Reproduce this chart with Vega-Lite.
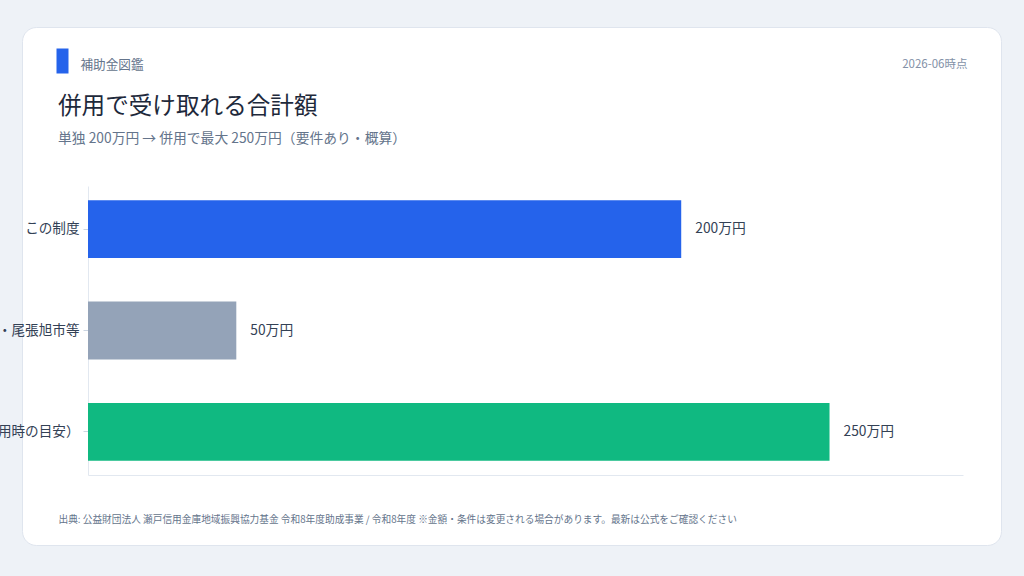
{
  "$schema": "https://vega.github.io/schema/vega-lite/v6.json",
  "description": "併用で受け取れる合計額（横棒グラフ）",
  "autosize": {"type": "none"},
  "padding": {"left": 22, "top": 27, "right": 23, "bottom": 31},
  "width": 979,
  "height": 518,
  "background": "#eef2f7",
  "title": {
    "text": "併用で受け取れる合計額",
    "subtitle": "単独 200万円 → 併用で最大 250万円（要件あり・概算）",
    "anchor": "start",
    "frame": "group",
    "dx": 36,
    "dy": 123,
    "font": "Noto Sans CJK JP",
    "fontSize": 23.6,
    "fontWeight": "normal",
    "color": "#1e293b",
    "subtitleFont": "Noto Sans CJK JP",
    "subtitleFontSize": 13.8,
    "subtitleColor": "#64748b",
    "subtitlePadding": 14
  },
  "data": {
    "values": [
      {"item": "この制度", "amount": 200, "label": "200万円"},
      {"item": "瀬戸市・尾張旭市等", "amount": 50, "label": "50万円"},
      {"item": "合計（併用時の目安）", "amount": 250, "label": "250万円"}
    ]
  },
  "encoding": {
    "y": {
      "field": "item",
      "type": "nominal",
      "sort": null,
      "scale": {"range": [159, 448], "paddingInner": 0.43, "paddingOuter": 0.14},
      "axis": {
        "orient": "left",
        "offset": -66,
        "title": "補助金図鑑",
        "titleAngle": 0,
        "titleAlign": "left",
        "titleBaseline": "middle",
        "titleX": -8,
        "titleY": 37,
        "titleFont": "Noto Sans CJK JP",
        "titleFontSize": 12.6,
        "titleFontWeight": "normal",
        "titleColor": "#64748b",
        "labelFont": "Noto Sans CJK JP",
        "labelFontSize": 13.6,
        "labelColor": "#334155",
        "labelLimit": 0,
        "labelPadding": 4,
        "tickSize": 5,
        "tickColor": "#cbd5e1",
        "domainColor": "#e2e8f0",
        "grid": false
      }
    },
    "x": {
      "field": "amount",
      "type": "quantitative",
      "scale": {"domain": [0, 295], "range": [66, 941], "nice": false}
    }
  },
  "layer": [
    {
      "mark": {"type": "bar"},
      "encoding": {
        "color": {
          "field": "item",
          "type": "nominal",
          "scale": {
            "domain": ["この制度", "瀬戸市・尾張旭市等", "合計（併用時の目安）"],
            "range": ["#2563eb", "#94a3b8", "#10b981"]
          },
          "legend": null
        },
        "x": {
          "field": "amount",
          "type": "quantitative",
          "axis": {
            "orient": "bottom",
            "offset": -70,
            "ticks": false,
            "labels": false,
            "grid": false,
            "domainColor": "#e2e8f0",
            "title": "出典: 公益財団法人 瀬戸信用金庫地域振興協力基金 令和8年度助成事業 / 令和8年度 ※金額・条件は変更される場合があります。最新は公式をご確認ください",
            "titleAlign": "left",
            "titleBaseline": "middle",
            "titleX": 36,
            "titleY": 44,
            "titleFont": "Noto Sans CJK JP",
            "titleFontSize": 9.7,
            "titleFontWeight": "normal",
            "titleColor": "#64748b"
          }
        }
      }
    },
    {
      "mark": {
        "type": "text",
        "align": "left",
        "baseline": "middle",
        "dx": 14,
        "font": "Noto Sans CJK JP",
        "fontSize": 13.8,
        "color": "#334155"
      },
      "encoding": {
        "text": {"field": "label", "type": "nominal"},
        "x": {
          "field": "amount",
          "type": "quantitative",
          "axis": {
            "orient": "top",
            "offset": -46,
            "values": [0],
            "domain": false,
            "labels": false,
            "grid": false,
            "tickSize": 25,
            "tickWidth": 12,
            "tickColor": "#2563eb",
            "tickOffset": -26,
            "title": "2026-06時点",
            "titleAlign": "right",
            "titleBaseline": "middle",
            "titleX": 945,
            "titleY": -9,
            "titleFont": "Noto Sans CJK JP",
            "titleFontSize": 11.5,
            "titleFontWeight": "normal",
            "titleColor": "#8391a7"
          }
        }
      }
    }
  ],
  "resolve": {"axis": {"x": "independent"}},
  "config": {
    "view": {"fill": "white", "stroke": "#dfe5ee", "strokeWidth": 1, "cornerRadius": 14}
  }
}
